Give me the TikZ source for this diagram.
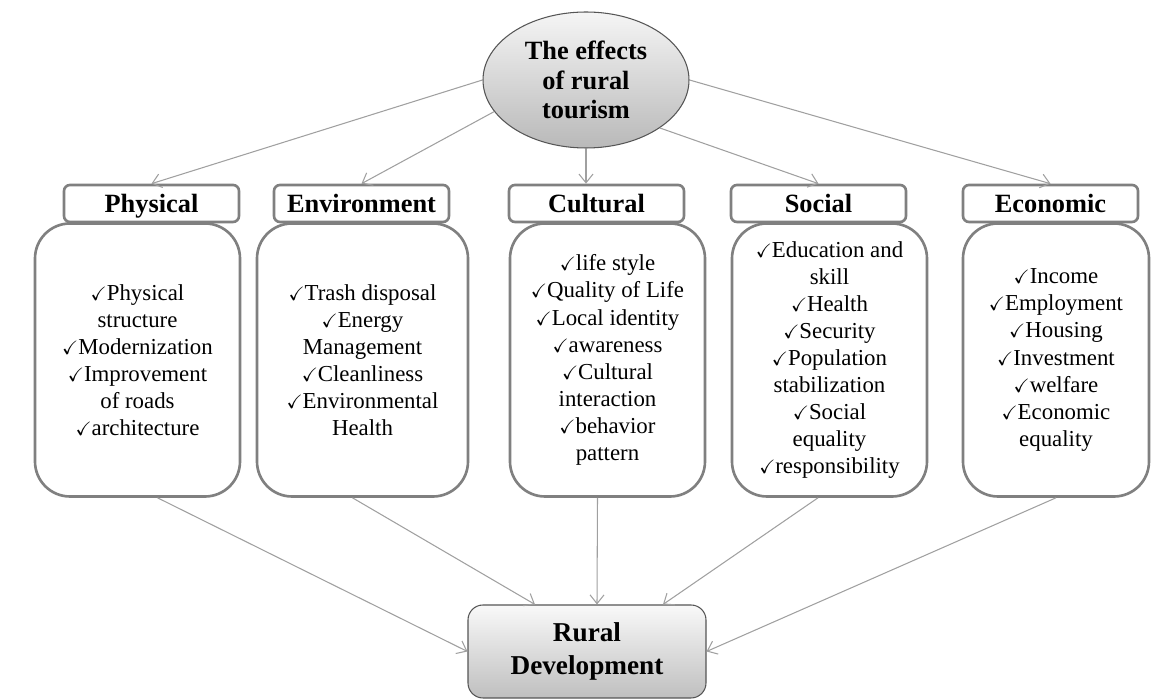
\documentclass[tikz,border=0pt]{standalone}
\usepackage{amsmath,amssymb}
\usepackage{fontspec}
\setmainfont{Liberation Serif}
\usepackage{xcolor}
\usepackage{tikz}
\usetikzlibrary{shapes.geometric,arrows.meta,positioning,calc}
\definecolor{frame}{RGB}{128,128,128}
\definecolor{edge}{RGB}{85,85,85}
\definecolor{link}{RGB}{160,160,160}
\newcommand{\ck}{{\fontsize{11}{11}\selectfont$\checkmark$}}

\begin{document}
\begin{tikzpicture}[
    effect/.style={draw=frame, line width=1.5pt, rounded corners=0.7cm, fill=white,
                   minimum height=5.46cm, align=center,
                   font=\fontsize{13}{15.4}\selectfont},
    head/.style={draw=frame, line width=1.5pt, rounded corners=0.12cm, fill=white,
                 minimum width=3.5cm, minimum height=0.74cm, inner sep=0pt,
                 text height=12pt, text depth=2pt,
                 font=\fontsize{15}{18}\selectfont\bfseries},
    arr/.style={-{Straight Barb[length=5pt,width=8pt]}, line width=0.6pt, link},
  ]
  \useasboundingbox (0,0) rectangle (23.02,14);

  % source of the effects
  \node[ellipse, draw=edge, line width=0.6pt, top color=gray!8, bottom color=gray!55,
        minimum width=4.12cm, minimum height=2.72cm, inner sep=0pt, align=center,
        font=\fontsize{15}{17}\selectfont\bfseries] (top) at (11.72,12.4)
        {The effects\\of rural\\tourism};

  % effect groups
  \node[effect, minimum width=4.1cm] (b1) at (2.75,6.8)
    {\ck Physical\\structure\\\ck Modernization\\\ck Improvement\\of roads\\\ck architecture};
  \node[effect, minimum width=4.22cm] (b2) at (7.25,6.8)
    {\ck Trash disposal\\\ck Energy\\Management\\\ck Cleanliness\\\ck Environmental\\Health};
  \node[effect, minimum width=3.9cm] (b3) at (12.15,6.8)
    {\ck life style\\\ck Quality of Life\\\ck Local identity\\\ck awareness\\\ck Cultural\\interaction\\\ck behavior\\pattern};
  \node[effect, minimum width=3.9cm] (b4) at (16.59,6.8)
    {\ck Education and\\skill\\\ck Health\\\ck Security\\\ck Population\\stabilization\\\ck Social\\equality\\\ck responsibility};
  \node[effect, minimum width=3.72cm] (b5) at (21.12,6.8)
    {\ck Income\\\ck Employment\\\ck Housing\\\ck Investment\\\ck welfare\\\ck Economic\\equality};

  \node[head] (h1) at (3.03,9.93) {Physical};
  \node[head] (h2) at (7.23,9.93) {Environment};
  \node[head] (h3) at (11.93,9.93) {Cultural};
  \node[head] (h4) at (16.37,9.93) {Social};
  \node[head] (h5) at (21.01,9.93) {Economic};

  % outcome
  \node[draw=edge, line width=0.6pt, rounded corners=0.3cm, top color=gray!5, bottom color=gray!50,
        minimum width=4.76cm, minimum height=1.86cm, align=center,
        font=\fontsize{15.5}{18.7}\selectfont\bfseries] (rd) at (11.74,0.97)
        {Rural\\Development};

  \draw[arr] (top.west) -- (h1.north);
  \draw[arr] (top.199) -- (h2.north);
  \draw[arr] (top.south) -- (top.south |- h3.north);
  \draw[arr] (top.-33) -- (h4.north);
  \draw[arr] (top.east) -- (h5.north);

  \draw[arr] ([xshift=0.4cm]b1.south) -- (rd.west);
  \draw[arr] ([xshift=-0.2cm]b2.south) -- ([xshift=-1.04cm]rd.north);
  \draw[arr] ([xshift=-0.2cm]b3.south) -- ([xshift=0.2cm]rd.north);
  \draw[arr] ([xshift=-0.23cm]b4.south) -- ([xshift=1.52cm]rd.north);
  \draw[arr] (b5.south) -- (rd.east);
\end{tikzpicture}
\end{document}
